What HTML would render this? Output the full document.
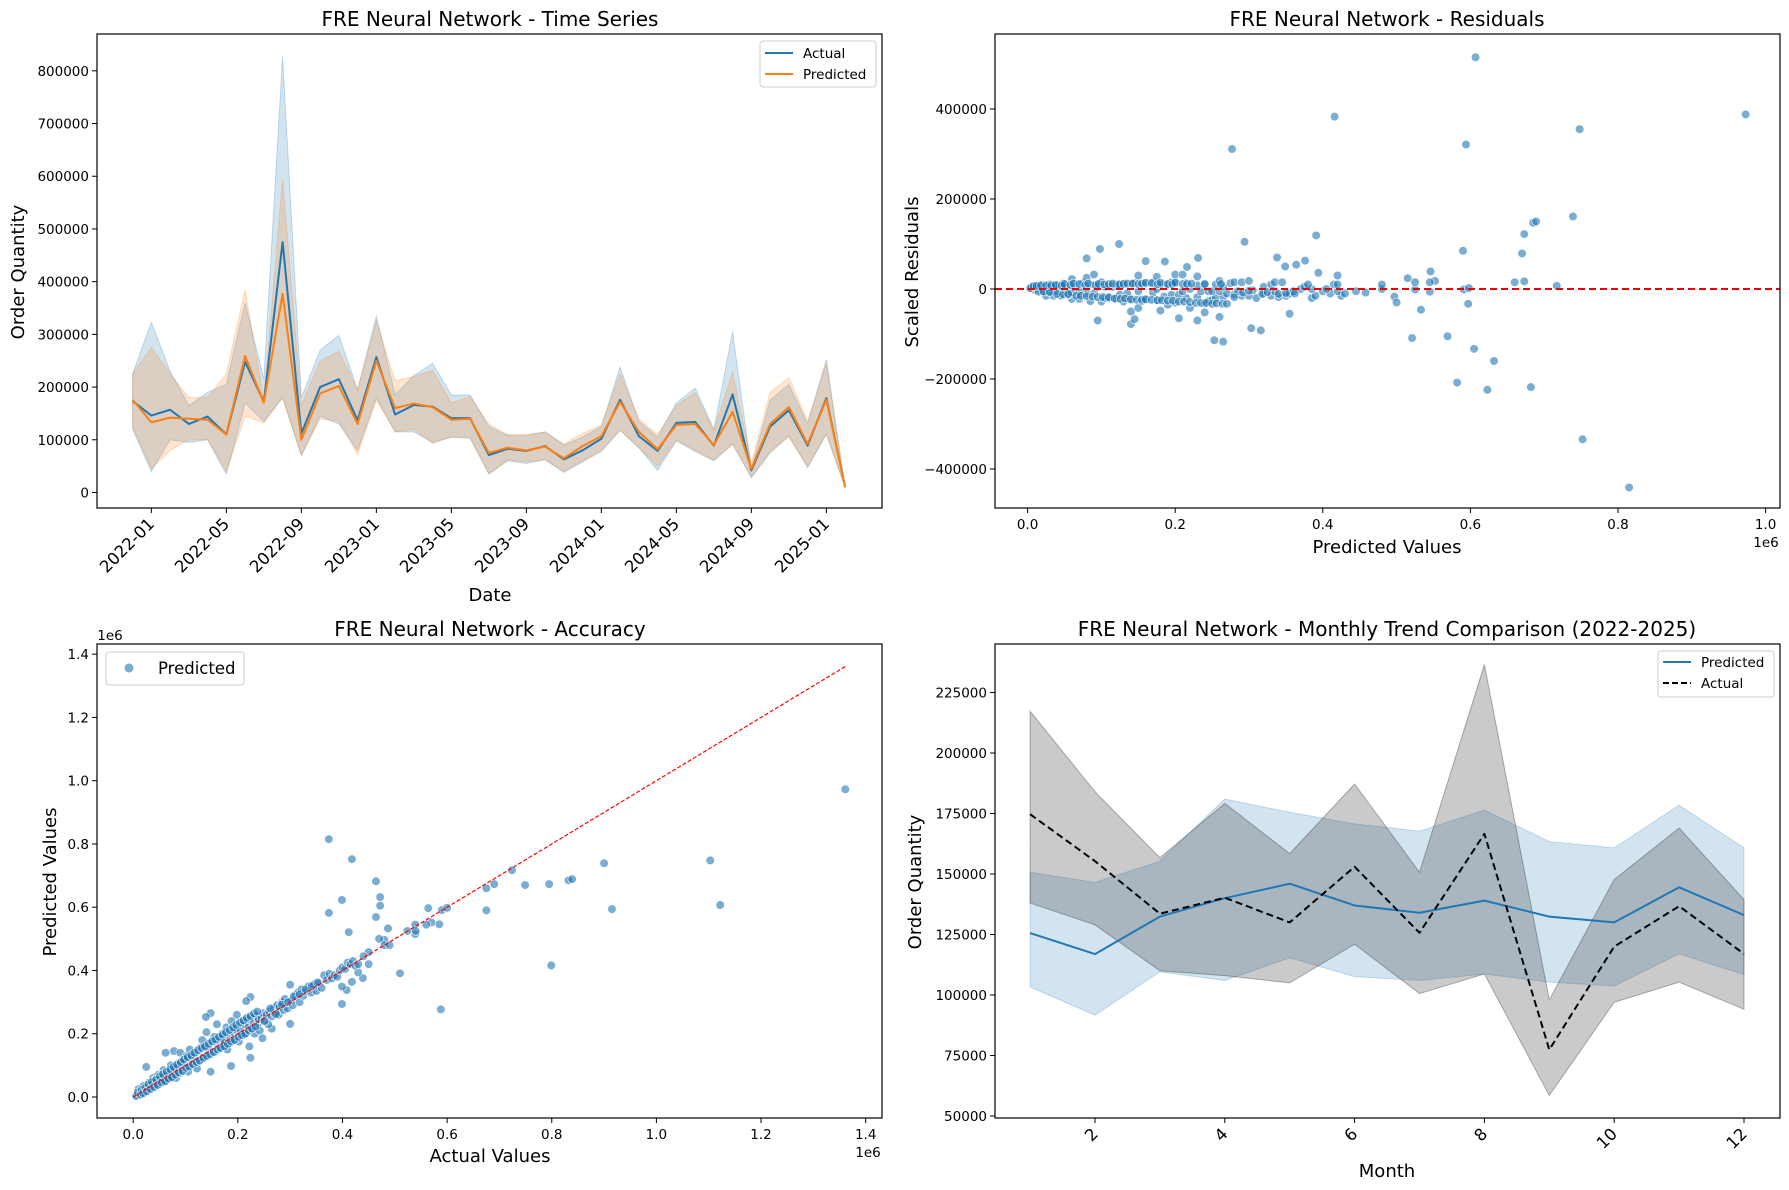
<!DOCTYPE html>
<html><head><meta charset="utf-8"><style>
body{margin:0;background:#fff}
svg{display:block;font-family:"DejaVu Sans","Liberation Sans",sans-serif}
</style></head><body>
<svg id="fig" width="1789" height="1190" viewBox="0 0 1789 1190"></svg>
<script>
// ---------- data ----------
const tsMonths = ['2021-12','2022-01','2022-02','2022-03','2022-04','2022-05','2022-06','2022-07','2022-08','2022-09','2022-10','2022-11','2022-12','2023-01','2023-02','2023-03','2023-04','2023-05','2023-06','2023-07','2023-08','2023-09','2023-10','2023-11','2023-12','2024-01','2024-02','2024-03','2024-04','2024-05','2024-06','2024-07','2024-08','2024-09','2024-10','2024-11','2024-12','2025-01','2025-02'];
const tsActual = [173.5,146,157,130,144,110,248,172,475,112,200,215,137,257,148,166,163,141,141,71,83,79,88,63,80,102,176,107,79,132,134,89,186,42,125,156,89,179,10];
const tsPred = [176,133,142,140,138,110,259,170,377,100,188,202,130,250,160,169,162,138,140,75,85,80,87,65,88,107,172,115,82,128,130,90,153,45,130,162,92,176,10];
const tsActualHi = [225,323,230,165,190,205,360,215,827,180,270,298,195,335,185,222,245,185,185,125,108,108,115,90,105,125,238,135,105,170,198,120,305,45,175,205,130,252,10];
const tsActualLo = [120,40,100,95,100,35,170,135,180,70,145,130,80,180,115,115,95,105,103,35,60,55,62,38,58,78,118,85,42,98,78,60,92,28,75,108,47,110,10];
const tsPredHi = [225,275,225,180,180,225,385,175,595,165,250,268,195,325,212,220,232,170,182,130,110,110,115,92,112,128,225,140,110,165,190,118,228,55,190,218,135,245,10];
const tsPredLo = [125,45,80,100,100,40,145,132,180,70,140,135,72,175,115,120,93,105,105,35,62,58,63,40,60,80,118,85,50,100,80,62,92,30,78,105,50,112,10];
const tsYTicks = [0,100000,200000,300000,400000,500000,600000,700000,800000];

// actual / predicted pairs (thousands)
const scActual = [1361,374,418,464,472,472,399,374,464,412,487,900,1103,1122,915,799,588,510,724,675,690,749,795,832,839,675,564,590,600,585,570,524,539,539,450,439,430,399,408,399,418,480,450,224,187,148,139,224,216,300,247,265,
5,8,10,12,15,18,20,22,25,25,28,30,32,35,38,40,42,45,48,50,52,55,58,60,62,65,68,70,72,75,78,80,82,85,88,90,92,95,98,100,102,105,108,110,112,115,118,120,122,125,128,130,132,135,138,140,142,145,148,150,152,155,158,160,162,165,168,170,172,175,178,180,182,185,188,190,192,195,198,200,202,205,208,210,212,215,218,220,222,225,228,230,232,235,238,240,242,245,248,250,255,258,260,265,268,270,275,278,280,285,288,290,295,300,302,305,310,315,318,322,325,330,335,340,345,350,355,360,365,370,375,380,385,390,395,400,405,410,415,420,425,430,440,470,480,490,540,560,
6,9,14,16,19,23,26,29,33,36,40,44,47,51,54,57,61,64,67,71,74,77,81,84,87,91,94,97,101,104,107,111,114,117,121,124,127,131,134,137,141,144,147,151,154,157,161,164,167,171,174,177,181,184,187,191,194,197,201,204,207,211,214,217,221,224,227,231,234,237,251,262,273,284,296,307,318,329,341,352];
const scPred = [973,815,752,682,632,605,623,582,569,521,533,739,748,607,594,416,277,391,717,660,673,670,673,685,689,590,597,591,598,546,552,525,545,515,420,376,394,294,338,349,364,497,458,124,98,265,253,316,303,231,186,216,
3,10,25,6,20,12,35,15,30,95,20,45,28,40,60,30,55,38,70,42,60,50,85,48,140,70,58,80,100,65,145,90,60,105,75,140,110,85,120,95,130,80,150,105,125,100,140,115,90,135,155,120,180,125,160,205,130,150,80,175,140,190,145,230,170,155,185,200,160,175,220,150,195,170,240,180,205,215,260,190,175,210,240,195,230,200,245,220,160,250,215,235,200,255,230,245,210,250,265,240,260,230,270,255,280,265,290,260,285,300,275,310,280,355,305,290,320,330,300,340,320,335,350,330,355,335,360,345,385,370,390,375,385,380,400,410,405,425,420,430,415,420,445,500,480,480,525,545,
4,15,8,22,12,30,18,40,25,48,32,55,38,66,46,72,50,80,58,88,62,95,70,102,78,110,82,118,92,126,96,132,104,140,110,148,115,155,124,160,130,168,135,176,142,182,150,190,155,197,160,205,168,212,176,220,180,228,190,235,196,242,200,250,210,256,216,264,222,270,240,280,262,292,300,318,325,340,350,362];
const resXTicks = ['0.0','0.2','0.4','0.6','0.8','1.0'];
const resYTicks = [-400000,-200000,0,200000,400000];
const accTicks = ['0.0','0.2','0.4','0.6','0.8','1.0','1.2','1.4'];

const moMonths = [1,2,3,4,5,6,7,8,9,10,11,12];
const moPred = [125.6,116.9,132.4,140,146,137,134,139,132.4,130,144.5,133];
const moPredHi = [150.7,146.5,155.3,181,175.5,170.7,167.7,176.4,163.4,160.8,178.4,160.8];
const moPredLo = [103.3,91.7,109.6,106,115.4,107.6,106,108.7,105.3,103.7,117,108.4];
const moActual = [174.7,155.3,133.6,140.2,130,153,125.7,166.6,77.4,120,136.7,117];
const moActualHi = [217.3,184,156.7,179.2,158.4,187.2,150.7,236.5,98,147.7,169,139.4];
const moActualLo = [138,129,110,108,105,121,100.6,108.7,58.5,97,105.3,94.1];
const moYTicks = [50000,75000,100000,125000,150000,175000,200000,225000];
const moXTicks = [2,4,6,8,10,12];

// ---------- helpers ----------
const NS='http://www.w3.org/2000/svg', fig=document.getElementById('fig');
function el(tag,attrs,parent,txt){const e=document.createElementNS(NS,tag);for(const k in attrs)e.setAttribute(k,attrs[k]);if(txt!==undefined)e.textContent=txt;(parent||fig).appendChild(e);return e;}
function txt(x,y,s,size,anchor,parent,extra){const t=el('text',Object.assign({x:x,y:y,'font-size':size,'text-anchor':anchor||'middle',fill:'#000'},extra||{}),parent,s);return t;}
function band(xs,hi,lo,fx,fy,fill,op,stroke){let d='M';xs.forEach((x,i)=>{d+=fx(x)+','+fy(hi[i])+' L';});for(let i=xs.length-1;i>=0;i--){d+=fx(xs[i])+','+fy(lo[i])+(i?' L':'');}d+=' Z';return el('path',{d:d,fill:fill,'fill-opacity':op,stroke:stroke||fill,'stroke-opacity':op*1.2,'stroke-width':1});}
function line(xs,ys,fx,fy,color,w,dash){return el('polyline',{points:xs.map((x,i)=>fx(x)+','+fy(ys[i])).join(' '),fill:'none',stroke:color,'stroke-width':w,'stroke-dasharray':dash||'none','stroke-linejoin':'round'});}
function frame(x0,y0,x1,y1){return el('rect',{x:x0,y:y0,width:x1-x0,height:y1-y0,fill:'none',stroke:'#000','stroke-width':1.2});}
function yTick(x0,y,label,g){el('line',{x1:x0-5,y1:y,x2:x0,y2:y,stroke:'#000'},g);txt(x0-8,y+5,label,13.5,'end',g);}

// ---------- Panel 1: time series ----------
{
const g=el('g',{});  
const X0=97,X1=882,Y0=34,Y1=508;
const fx=i=>132.6+i*18.75, fy=v=>492.5-v*0.5271;
const idx=tsMonths.map((m,i)=>i);
const b1=band(idx,tsActualHi,tsActualLo,fx,fy,'#1f77b4',0.2);  
const b2=band(idx,tsPredHi,tsPredLo,fx,fy,'#ff7f0e',0.2);  
const l1=line(idx,tsActual,fx,fy,'#1f77b4',2);  
const l2=line(idx,tsPred,fx,fy,'#ff7f0e',2);  
frame(X0,Y0,X1,Y1);
tsYTicks.forEach(v=>yTick(X0,fy(v/1000),String(v),g));
for(let i=1;i<tsMonths.length;i+=4){const x=fx(i);el('line',{x1:x,y1:Y1,x2:x,y2:Y1+5,stroke:'#000'},g);
 txt(x+4,Y1+17,tsMonths[i],16.5,'end',g,{transform:'rotate(-45 '+(x+4)+' '+(Y1+17)+')'});}
const ti=txt(490,26,'FRE Neural Network - Time Series',20,'middle',g);  
const xl=txt(490,601,'Date',18,'middle',g);  
const yl=txt(24,272,'Order Quantity',18,'middle',g,{transform:'rotate(-90 24 272)'});  
const lg=el('g',{},g);  
el('rect',{x:760,y:41,width:116,height:46,rx:3,fill:'#fff','fill-opacity':0.8,stroke:'#ccc'},lg);
el('line',{x1:765,y1:53,x2:793,y2:53,stroke:'#1f77b4','stroke-width':2},lg);txt(803,58,'Actual',13.5,'start',lg);
el('line',{x1:765,y1:74,x2:793,y2:74,stroke:'#ff7f0e','stroke-width':2},lg);txt(803,79,'Predicted',13.5,'start',lg);
}

// ---------- Panel 2: residuals ----------
{
const g=el('g',{});  
const X0=995,X1=1780,Y0=34,Y1=508;
const fx=v=>1027.6+v*0.738, fy=v=>289-v*0.45;
scActual.forEach((a,i)=>{const p=scPred[i];const c=el('circle',{cx:fx(p),cy:fy(a-p),r:4.3,fill:'#1f77b4','fill-opacity':0.6,stroke:'#fff','stroke-width':0.6},g);
  });
const z=el('line',{x1:X0,y1:fy(0),x2:X1,y2:fy(0),stroke:'#e00','stroke-width':2,'stroke-dasharray':'7,4'},g);  
frame(X0,Y0,X1,Y1);
resYTicks.forEach(v=>yTick(X0,fy(v/1000),v<0?'\u2212'+(-v):String(v),g));
resXTicks.forEach((s,i)=>{const x=fx(i*200);el('line',{x1:x,y1:Y1,x2:x,y2:Y1+5,stroke:'#000'},g);txt(x,Y1+21,s,13.5,'middle',g);});
txt(1766,547,'1e6',13.5,'middle',g);
const ti=txt(1387,26,'FRE Neural Network - Residuals',20,'middle',g);  
const xl=txt(1387,553,'Predicted Values',18,'middle',g);  
const yl=txt(918,272,'Scaled Residuals',18,'middle',g,{transform:'rotate(-90 918 272)'});  
}

// ---------- Panel 3: accuracy ----------
{
const g=el('g',{});  
const X0=97,X1=882,Y0=644,Y1=1118;
const fx=v=>133.2+v*0.5232, fy=v=>1097-v*0.3163;
scActual.forEach((a,i)=>{const c=el('circle',{cx:fx(a),cy:fy(scPred[i]),r:4.3,fill:'#1f77b4','fill-opacity':0.6,stroke:'#fff','stroke-width':0.6},g);
  });
const mx=Math.max(...scActual);
const d=el('line',{x1:fx(0),y1:fy(0),x2:fx(mx),y2:fy(mx),stroke:'#f00','stroke-width':1.2,'stroke-dasharray':'4,2'},g);  
frame(X0,Y0,X1,Y1);
accTicks.forEach((s,i)=>{yTick(X0,fy(i*200),s,g);const x=fx(i*200);el('line',{x1:x,y1:Y1,x2:x,y2:Y1+5,stroke:'#000'},g);txt(x,Y1+21,s,13.5,'middle',g);});
txt(110,640,'1e6',13.5,'middle',g);txt(868,1157,'1e6',13.5,'middle',g);
const ti=txt(490,636,'FRE Neural Network - Accuracy',20,'middle',g);  
const xl=txt(490,1162,'Actual Values',18,'middle',g);  
const yl=txt(56,882,'Predicted Values',18,'middle',g,{transform:'rotate(-90 56 882)'});  
const lg=el('g',{},g);  
el('rect',{x:106,y:652,width:138,height:33,rx:3,fill:'#fff','fill-opacity':0.8,stroke:'#ccc'},lg);
el('circle',{cx:129,cy:668,r:4.5,fill:'#1f77b4','fill-opacity':0.6},lg);txt(158,674,'Predicted',16.5,'start',lg);
}

// ---------- Panel 4: monthly trend ----------
{
const g=el('g',{});  
const X0=995,X1=1780,Y0=644,Y1=1118;
const fx=m=>1030.1+(m-1)*64.9, fy=v=>1116-(v-50)*2.42;
const b1=band(moMonths,moPredHi,moPredLo,fx,fy,'#1f77b4',0.2);  
const b2=band(moMonths,moActualHi,moActualLo,fx,fy,'#404040',0.28,'#222');  
const l1=line(moMonths,moPred,fx,fy,'#1f77b4',2);  
const l2=line(moMonths,moActual,fx,fy,'#000',2,'7,4');  
frame(X0,Y0,X1,Y1);
moYTicks.forEach(v=>yTick(X0,fy(v/1000),String(v),g));
moXTicks.forEach(m=>{const x=fx(m);el('line',{x1:x,y1:Y1,x2:x,y2:Y1+5,stroke:'#000'},g);txt(x+4,Y1+17,String(m),16.5,'end',g,{transform:'rotate(-45 '+(x+4)+' '+(Y1+17)+')'});});
const ti=txt(1387,636,'FRE Neural Network - Monthly Trend Comparison (2022-2025)',20,'middle',g);  
const xl=txt(1387,1177,'Month',18,'middle',g);  
const yl=txt(921,882,'Order Quantity',18,'middle',g,{transform:'rotate(-90 921 882)'});  
const lg=el('g',{},g);  
el('rect',{x:1658,y:651,width:116,height:46,rx:3,fill:'#fff','fill-opacity':0.8,stroke:'#ccc'},lg);
el('line',{x1:1663,y1:662,x2:1691,y2:662,stroke:'#1f77b4','stroke-width':2},lg);txt(1701,667,'Predicted',13.5,'start',lg);
el('line',{x1:1663,y1:683,x2:1691,y2:683,stroke:'#000','stroke-width':2,'stroke-dasharray':'6,3'},lg);txt(1701,688,'Actual',13.5,'start',lg);
}
</script>
</body></html>
